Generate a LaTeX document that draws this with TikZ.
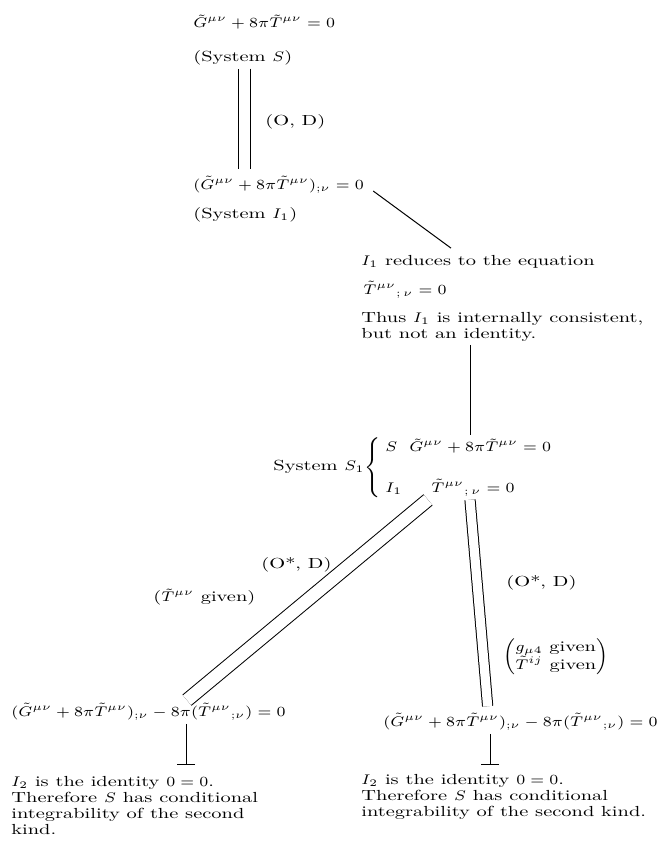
\documentclass[tikz,border=0pt]{standalone}
\usepackage{fontspec}
\setmainfont{lmroman10-regular.otf}[FakeStretch=1.4,
  ItalicFont=lmroman10-italic.otf, BoldFont=lmroman10-bold.otf]
\usepackage{graphicx}
\usetikzlibrary{arrows.meta}
% wide math, to go with the wide text face
\newcommand{\wm}[1]{\scalebox{1.13}[1]{$#1$}}

\begin{document}
\begin{tikzpicture}[x=0.5pt, y=-0.5pt,
  txt/.style={anchor=west, inner sep=1.5pt, align=left,
              font=\fontsize{7.3}{8}\selectfont},
  link/.style={line width=0.5pt},
  dbl/.style={double, double distance=#1, line width=0.5pt},
  dbl/.default=5.5pt,
  stop/.style={line width=0.5pt, -{Bar[width=9pt, line width=0.5pt]}}
]
\useasboundingbox (0,0) rectangle (659,852);

% System S
\node[txt] (eqS) at (190,22) {\wm{\tilde G^{\mu\nu} + 8\pi\tilde T^{\mu\nu} = 0}};
\node[txt] (sysS) at (190,58) {(System \wm{S})};
\node[txt] (od) at (262,122) {(O, D)};

% System I_1
\node[txt] (eqI) at (190,185) {\wm{(\tilde G^{\mu\nu} + 8\pi\tilde T^{\mu\nu})_{;\nu} = 0}};
\node[txt] (sysI) at (190,215) {(System \wm{I_1})};

% What I_1 reduces to
\node[txt] (red) at (358,262) {\wm{I_1} reduces to the equation};
\node[txt] (redeq) at (360,290) {\wm{\tilde T^{\mu\nu}{}_{;\,\nu} = 0}};
\node[txt] (thus) at (358,327) {Thus \wm{I_1} is internally consistent,\\but not an identity.};

% System S_1
\node[txt] (sone) at (270,468) {System \wm{S_1}$\left\{\vrule height 14pt depth 14pt width 0pt\right.$};
\node[txt] (rowS) at (382,446) {\makebox[12pt][l]{\wm{S}}\wm{\tilde G^{\mu\nu} + 8\pi\tilde T^{\mu\nu} = 0}};
\node[txt] (rowI) at (382,488) {\makebox[23pt][l]{\wm{I_1}}\wm{\tilde T^{\mu\nu}{}_{;\,\nu} = 0}};

% Left branch
\node[txt] (osL) at (258,565) {(O*, D)};
\node[txt] (givL) at (150,597) {(\wm{\tilde T^{\mu\nu}} given)};
\node[txt] (eqL) at (8,712) {\wm{(\tilde G^{\mu\nu} + 8\pi\tilde T^{\mu\nu})_{;\nu} - 8\pi(\tilde T^{\mu\nu}{}_{;\nu}) = 0}};
\node[txt] (endL) at (8,806) {\wm{I_2} is the identity \wm{0 = 0}.\\Therefore \wm{S} has conditional\\integrability of the second\\kind.};

% Right branch
\node[txt] (osR) at (503,583) {(O*, D)};
\node[txt] (givR) at (500,657) {$\left(\begin{array}{@{}l@{}}\wm{g_{\mu4}}\ \mbox{given}\\ \wm{\tilde T^{ij}}\ \mbox{given}\end{array}\right)$};
\node[txt] (eqR) at (380,722) {\wm{(\tilde G^{\mu\nu} + 8\pi\tilde T^{\mu\nu})_{;\nu} - 8\pi(\tilde T^{\mu\nu}{}_{;\nu}) = 0}};
\node[txt] (endR) at (358,797) {\wm{I_2} is the identity \wm{0 = 0}.\\Therefore \wm{S} has conditional\\integrability of the second kind.};

% columns for the connectors
\coordinate (colA) at (244,0);
\coordinate (colB) at (470,0);
\coordinate (colC) at (428,0);
\coordinate (colD) at (187,0);
\coordinate (colE) at (470,0);
\coordinate (colF) at (488,0);
\coordinate (colG) at (186,0);
\coordinate (colH) at (490,0);

% Connectors
\draw[dbl, shorten >=2pt] (sysS.south -| colA) -- (eqI.north -| colA);
\draw[link] ([shift={(6,6)}]eqI.east) -- ([shift={(93,-4)}]red.north west);
\draw[link] (thus.south -| colB) -- (rowS.north -| colB);
\draw[dbl=6.2pt] (rowI.south -| colC) -- (eqL.north -| colD);
\draw[dbl=4.6pt, shorten >=2pt] (rowI.south -| colE) -- (eqR.north -| colF);
\draw[stop, shorten >=4pt] (eqL.south -| colG) -- (endL.north -| colG);
\draw[stop, shorten >=3pt] (eqR.south -| colH) -- (endR.north -| colH);
\end{tikzpicture}
\end{document}
